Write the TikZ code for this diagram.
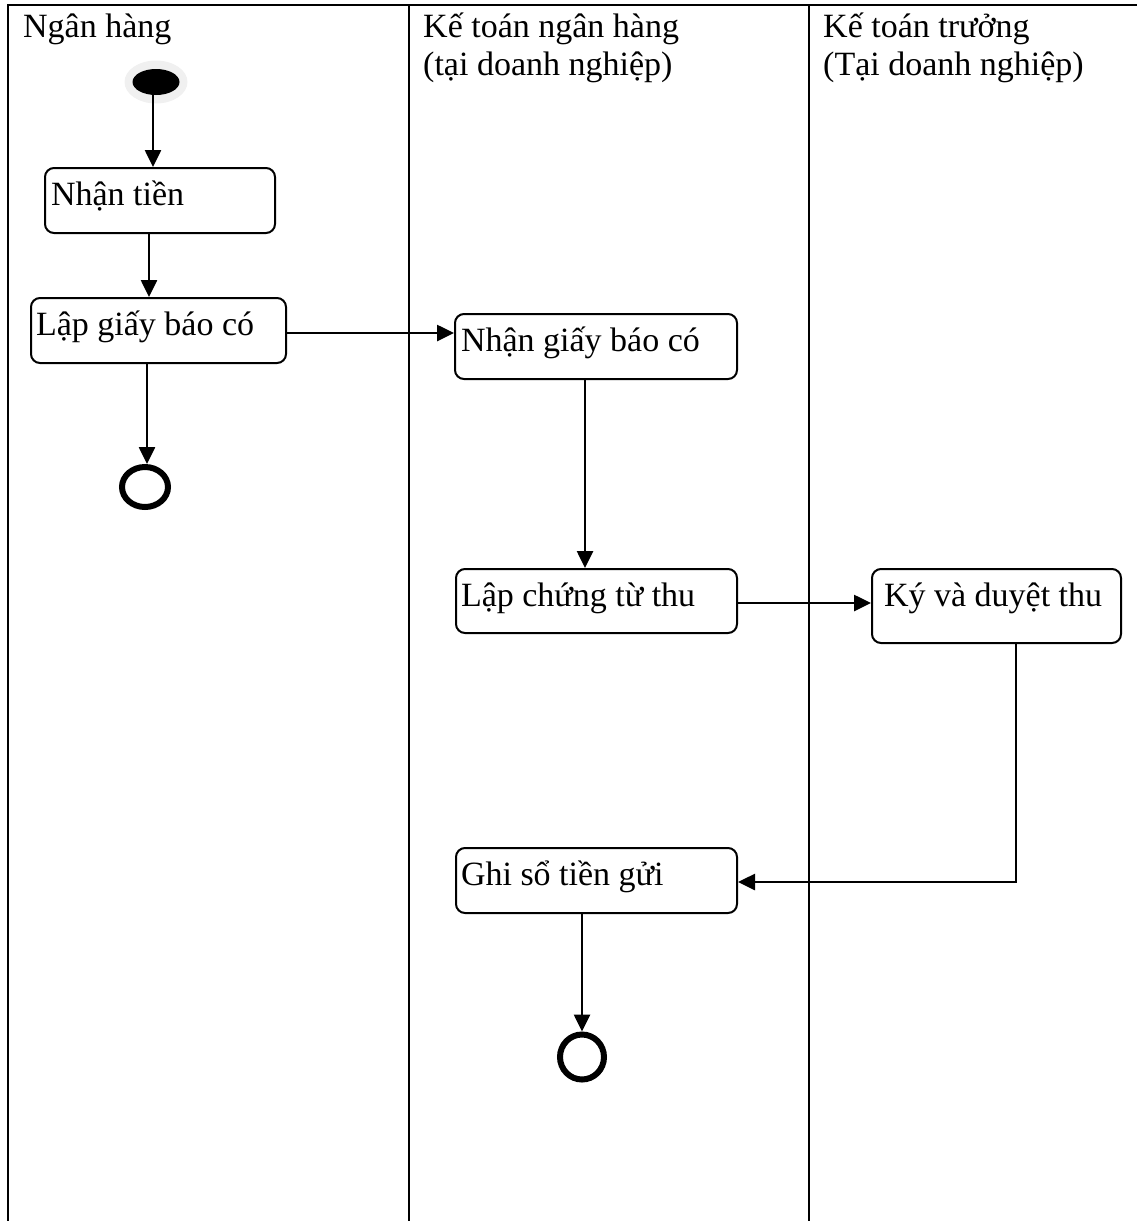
\documentclass[tikz,border=0pt]{standalone}
\usepackage{fontspec}
\setmainfont{Liberation Serif}
\usetikzlibrary{arrows.meta,shapes.geometric}

\begin{document}
\begin{tikzpicture}[x=1pt,y=-1pt,
  txt/.style={font=\fontsize{34}{38}\selectfont},
  lane/.style={line width=2.5pt},
  head/.style={txt, anchor=base west, inner sep=0pt, align=left},
  act/.style={txt, draw, line width=2pt, rounded corners=9pt, anchor=north west,
              inner ysep=0pt, text height=37pt},
  flow/.style={line width=2.6pt, -{Triangle[length=17pt,width=16pt]}},
  finish/.style={draw, ellipse, line width=6pt, inner sep=0pt},
]
\useasboundingbox (0,0) rectangle (1137,1221);

% swimlane frame
\draw[lane] (8,1221) -- (8,5) -- (1137,5);
\draw[lane] (409,5) -- (409,1221);
\draw[lane] (809,5) -- (809,1221);

% lane headings
\node[head] (h1) at (23,37) {Ngân hàng};
\node[head] (h2a) at (423,37) {Kế toán ngân hàng};
\node[head] (h2b) at (423,75) {(tại doanh nghiệp)};
\node[head] (h3a) at (823,37) {Kế toán trưởng};
\node[head] (h3b) at (823,75) {(Tại doanh nghiệp)};

% initial state
\node[ellipse, fill=black!6, minimum width=63pt, minimum height=43pt, inner sep=0pt] (glow) at (156,82) {};
\node[ellipse, fill=black, minimum width=47pt, minimum height=26pt, inner sep=0pt] (start) at (156,82) {};

% activities
\node[act, inner xsep=6pt, text depth=28pt] (recv) at (44,167) {\makebox[218pt][l]{Nhận tiền}};
\node[act, inner xsep=5pt, text depth=28pt] (note) at (30,297) {\makebox[245pt][l]{Lập giấy báo có}};
\node[act, inner xsep=6pt, text depth=28pt] (recvnote) at (454,313) {\makebox[270pt][l]{Nhận giấy báo có}};
\node[act, inner xsep=5pt, text depth=27pt] (voucher) at (455,568) {\makebox[271pt][l]{Lập chứng từ thu}};
\node[act, inner xsep=12pt, text depth=37pt] (sign) at (871,568) {\makebox[225pt][l]{Ký và duyệt thu}};
\node[act, inner xsep=5pt, text depth=28pt] (ledger) at (455,847) {\makebox[271pt][l]{Ghi sổ tiền gửi}};

% final states
\node[finish, minimum width=46pt, minimum height=40pt] (end1) at (145,487) {};
\node[finish, minimum width=44pt, minimum height=45pt] (end2) at (582,1057) {};

% control flow
\draw[flow] ([xshift=-3pt]start.south) -- ([xshift=-3pt]start.south |- recv.north);
\draw[flow] ([xshift=-11pt]recv.south) -- ([xshift=-11pt]recv.south |- note.north);
\draw[flow] ([xshift=2pt]end1.north |- note.south) -- ([xshift=2pt]end1.north);
\draw[flow] ([yshift=-2.5pt]note.east) -- ([yshift=-2.5pt]note.east -| recvnote.west);
\draw[flow] ([xshift=-11pt]recvnote.south) -- ([xshift=-11pt]recvnote.south |- voucher.north);
\draw[flow] ([yshift=-2pt]voucher.east) -- ([yshift=-2pt]voucher.east -| sign.west);
\draw[flow] ([xshift=19.5pt]sign.south) |- ([yshift=-1.5pt]ledger.east);
\draw[flow] (ledger.south -| end2.north) -- (end2.north);
\end{tikzpicture}
\end{document}
